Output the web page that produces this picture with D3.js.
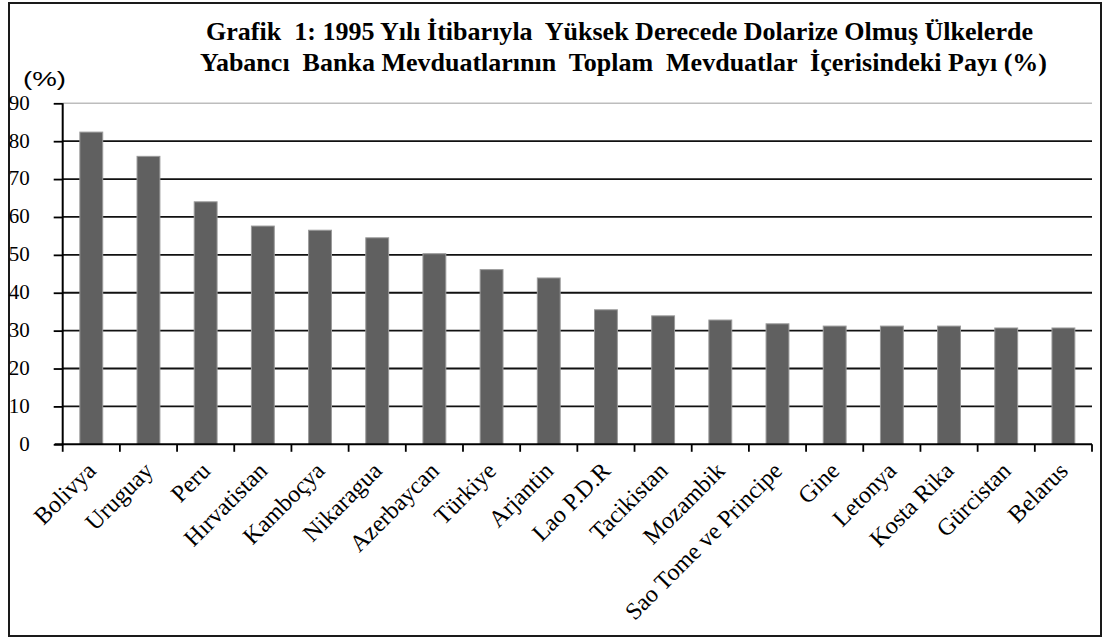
<!DOCTYPE html>
<html>
<head>
<meta charset="utf-8">
<script src="https://cdn.jsdelivr.net/npm/d3@7"></script>
<style>
  html, body { margin: 0; padding: 0; background: #fff; }
  svg { display: block; }
</style>
</head>
<body>
<svg id="chart" width="1104" height="639"></svg>
<script>
const categories = ["Bolivya", "Uruguay", "Peru", "Hırvatistan", "Kamboçya", "Nikaragua", "Azerbaycan", "Türkiye", "Arjantin", "Lao P.D.R", "Tacikistan", "Mozambik", "Sao Tome ve Principe", "Gine", "Letonya", "Kosta Rika", "Gürcistan", "Belarus"];
const values = [82.4, 76.0, 64.0, 57.6, 56.5, 54.5, 50.3, 46.1, 43.9, 35.5, 33.9, 32.8, 31.8, 31.2, 31.2, 31.2, 30.7, 30.7];
const yTicks = [0, 10, 20, 30, 40, 50, 60, 70, 80, 90];
const titleLines = ["Grafik  1: 1995 Yılı İtibarıyla  Yüksek Derecede Dolarize Olmuş Ülkelerde", "Yabancı  Banka Mevduatlarının  Toplam  Mevduatlar  İçerisindeki Payı (%)"];
const yUnit = "(%)";

(function () {
const svg = d3.select("#chart");
const W = 1104, H = 639;
const serif = "'Liberation Serif', 'Times New Roman', serif";
svg.append("rect").attr("x", 0).attr("y", 0).attr("width", W).attr("height", H).attr("fill", "#fff");
svg.append("rect").attr("x", 9).attr("y", 3).attr("width", 1092).attr("height", 633)
  .attr("fill", "none").attr("stroke", "#1a1a1a").attr("stroke-width", 2);

const pL = 62.7, pR = 1092, pT = 103.3, pB = 444.3;
const x = d3.scaleBand().domain(categories).range([pL, pR]).paddingInner(0.6).paddingOuter(0.3);
const y = d3.scaleLinear().domain([0, 90]).range([pB, pT]);

// gridlines
svg.append("g").selectAll("line").data(yTicks.filter(d => d > 0)).join("line")
  .attr("x1", pL).attr("x2", pR)
  .attr("y1", d => y(d)).attr("y2", d => y(d))
  .attr("stroke", d => d === 90 ? "#bdbdbd" : "#111")
  .attr("stroke-width", d => d === 90 ? 1.5 : 1.8);

// y axis
const yAxis = d3.axisLeft(y).tickValues(yTicks).tickSize(9).tickPadding(24).tickFormat(d3.format("d"));
const gy = svg.append("g").attr("transform", `translate(${pL},0)`).call(yAxis)
  .attr("font-family", null).attr("font-size", null);
gy.select(".domain").remove();
gy.selectAll(".tick line").attr("stroke", "#000").attr("stroke-width", 1.8);
gy.selectAll(".tick text")
  .style("font-family", serif)
  .style("font-size", "21px").attr("fill", "#000").attr("dy", "0.28em");

// bars
svg.append("g").selectAll("rect").data(values).join("rect")
  .attr("x", (d, i) => x(categories[i]))
  .attr("width", x.bandwidth())
  .attr("y", d => y(d))
  .attr("height", d => y(0) - y(d))
  .attr("fill", "#606060")
  .attr("stroke", "#9a9a9a").attr("stroke-width", 1);

// y axis line
svg.append("line").attr("x1", pL).attr("x2", pL).attr("y1", pT).attr("y2", pB + 1)
  .attr("stroke", "#000").attr("stroke-width", 2);

// x axis line
svg.append("line").attr("x1", pL - 8).attr("x2", pR).attr("y1", pB).attr("y2", pB)
  .attr("stroke", "#000").attr("stroke-width", 2);

// x ticks at category boundaries
const bounds = categories.map(c => x(c) - x.step() * x.paddingInner() / 2);
bounds.push(pR);
bounds[0] = pL;
svg.append("g").selectAll("line").data(bounds).join("line")
  .attr("x1", d => d).attr("x2", d => d).attr("y1", pB).attr("y2", pB + 7.5)
  .attr("stroke", "#000").attr("stroke-width", 1.8);

// x labels
svg.append("g").selectAll("text").data(categories).join("text")
  .attr("transform", d => `translate(${x(d) + x.bandwidth() / 2 + 6},${pB + 28}) rotate(-45)`)
  .attr("text-anchor", "end")
  .style("font-family", serif)
  .style("font-size", "24px").attr("fill", "#000")
  .text(d => d);

// title
const tl = [{x: 206, y: 40, len: 827}, {x: 200, y: 71, len: 847}];
svg.append("g").selectAll("text").data(titleLines).join("text")
  .attr("x", (d, i) => tl[i].x).attr("y", (d, i) => tl[i].y)
  .attr("textLength", (d, i) => tl[i].len).attr("lengthAdjust", "spacingAndGlyphs")
  .style("font-family", serif)
  .style("font-weight", "bold").style("font-size", "26px").attr("fill", "#000")
  .style("white-space", "pre")
  .text(d => d);

// unit label
svg.append("text").attr("x", 23).attr("y", 86)
  .attr("textLength", 43).attr("lengthAdjust", "spacingAndGlyphs")
  .style("font-family", "'Liberation Sans', Arial, sans-serif")
  .style("font-size", "21px").attr("fill", "#000").text(yUnit);
})();
</script>
</body>
</html>
